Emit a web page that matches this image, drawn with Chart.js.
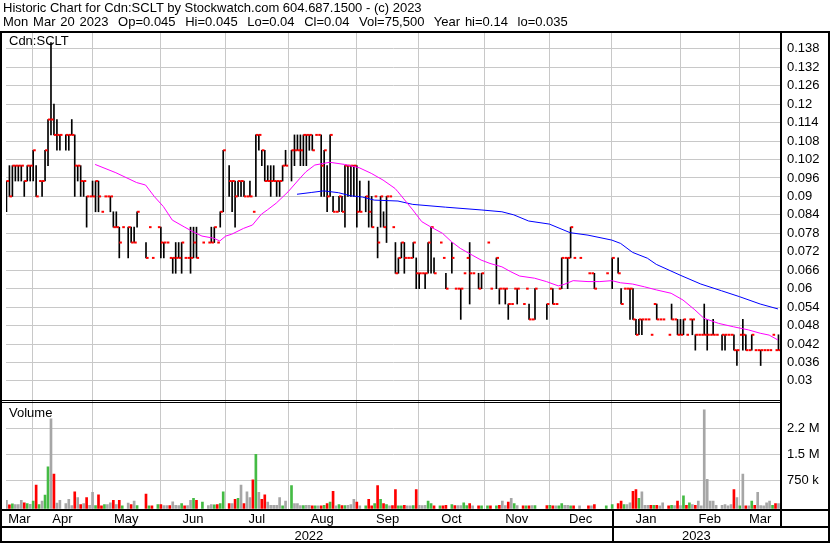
<!DOCTYPE html>
<html><head><meta charset="utf-8">
<script src="https://cdn.jsdelivr.net/npm/chart.js@4/dist/chart.umd.min.js"></script>
<style>
html,body{margin:0;padding:0;background:#fff;}
#wrap{position:relative;width:830px;height:543px;overflow:hidden;background:#fff;}
#c{position:absolute;left:0;top:0;}
.t{position:absolute;font-family:"Liberation Sans",Arial,sans-serif;font-size:13px;color:#000;white-space:pre;line-height:14px;}
</style></head><body>
<div id="wrap">
<canvas id="c" width="830" height="543"></canvas>
<div class="t" style="left:3px;top:1px">Historic Chart for Cdn:SCLT by Stockwatch.com 604.687.1500 - (c) 2023</div>
<div class="t" style="left:3px;top:15px;word-spacing:1.2px">Mon Mar 20 2023  Op=0.045  Hi=0.045  Lo=0.04  Cl=0.04  Vol=75,500  Year hi=0.14  lo=0.035</div>
<div class="t" style="left:9px;top:34px">Cdn:SCLT</div>
<div class="t" style="left:9px;top:406px">Volume</div>
</div>
<script>
// ---- data (one slot per weekday, Mar 21 2022 .. Mar 20 2023) ----
const monthStarts = [0, 9, 29, 52, 74, 95, 118, 139, 161, 183, 204, 227, 247, 261];
const monthNames = ['Mar','Apr','May','Jun','Jul','Aug','Sep','Oct','Nov','Dec','Jan','Feb','Mar'];
const yearStarts = [0, 204, 261];
const yearNames = ['2022','2023'];
const priceTicks = [0.03,0.036,0.042,0.048,0.054,0.06,0.066,0.072,0.078,0.084,0.09,0.096,0.102,0.108,0.114,0.12,0.126,0.132,0.138];
const priceTickLabels = ['0.03','0.036','0.042','0.048','0.054','0.06','0.066','0.072','0.078','0.084','0.09','0.096','0.102','0.108','0.114','0.12','0.126','0.132','0.138'];
const volTicks = [750000, 1500000, 2250000];
const volTickLabels = ['750 k','1.5 M','2.2 M'];

const highs = [
.095,.100,.100,.100,.100,.100,.095,.100,.100,.105,
.100,.095,.095,.105,.115,.140,.120,.115,.110,null,
.110,.110,.115,.110,.100,.100,.095,.090,.090,.095,
.095,.095,.085,.090,.090,.090,.085,.085,.080,.080,
null,.080,.080,.080,.085,null,null,.075,.080,.070,
null,.080,.080,.075,.075,.070,.070,.075,.075,.075,
.070,.070,.080,.080,.080,null,.075,null,.075,.080,
.080,.075,.085,.105,null,.100,.095,.095,.095,.095,
.095,.090,.095,.085,.110,.110,.105,.105,.100,.100,
.100,.095,.095,.100,.105,null,.105,.110,.110,.110,
.110,.110,.110,.110,.110,.110,.110,.105,.100,.110,
.090,.085,.090,.090,.100,.100,.100,.100,.100,.095,
null,.090,.095,.090,.090,.080,.090,.085,.090,.090,
.080,.075,.070,.075,.075,.070,.070,.075,.070,.065,
.065,.065,.075,.080,.070,null,.075,.070,.065,null,
.075,.060,.060,.060,.065,.070,.075,.065,null,.065,
.065,null,.075,.060,null,.070,.060,.060,.060,.055,
.055,.060,.060,null,.055,.060,.055,.050,.060,null,
null,null,.055,.060,.060,.055,.060,.070,.070,.070,
.080,.070,null,.070,null,null,.065,.065,.065,null,
null,null,.065,null,.070,null,.070,.060,.060,.060,
.060,.060,.050,.050,.050,.050,.050,.045,.055,.055,
.050,.050,null,.045,.055,.050,.050,.050,.050,.045,
.050,.050,.045,.045,.045,.055,.050,.045,.050,.045,
null,.045,.045,.045,.045,.045,.040,.045,.050,.045,
.040,.045,.040,.040,.040,.040,.040,.040,.045,.040,
.045];
const lows = [
.085,.090,.090,.095,.095,.095,.090,.095,.095,.095,
.090,.095,.090,.095,.100,.110,.110,.105,.105,null,
.105,.105,.110,.090,.095,.090,.090,.080,.090,.090,
.085,.085,.085,.090,.090,.085,.080,.080,.070,.080,
null,.070,.075,.075,.080,null,null,.070,.080,.070,
null,.080,.070,.070,.075,.070,.065,.065,.070,.065,
.070,.070,.065,.070,.070,null,.075,null,.075,.075,
.075,.075,.080,.085,null,.090,.085,.080,.090,.090,
.090,.090,.090,.085,.090,.105,.100,.095,.095,.090,
.095,.090,.090,.095,.100,null,.095,.100,.105,.100,
.100,.100,.105,.105,.110,.110,.090,.090,.085,.090,
.085,.085,.085,.085,.080,.090,.090,.090,.080,.085,
null,.085,.080,.080,.090,.070,.080,.080,.075,.090,
.080,.065,.065,.070,.065,.070,.070,.070,.060,.060,
.065,.060,.065,.065,.065,null,.075,.070,.060,null,
.065,.060,.060,.050,.065,.070,.055,.065,null,.060,
.060,null,.075,.060,null,.060,.055,.060,.055,.050,
.055,.060,.055,null,.055,.060,.050,.050,.050,null,
null,null,.050,.060,.055,.055,.060,.060,.070,.060,
.070,.070,null,.070,null,null,.065,.065,.060,null,
null,null,.065,null,.060,null,.065,.055,.060,.060,
.050,.050,.045,.045,.045,.050,.050,.045,.055,.050,
.050,.050,null,.045,.050,.050,.045,.045,.045,.045,
.050,.045,.040,.045,.045,.045,.040,.045,.045,.045,
null,.040,.040,.045,.045,.040,.035,.045,.040,.040,
.040,.040,.040,.040,.035,.040,.040,.040,.045,.040,
.040];
const closes = [
.095,.090,.100,.100,.100,.100,.095,.100,.100,.105,
.090,.095,.095,.105,.115,.115,.110,.110,.110,null,
.110,.110,.110,.100,.100,.095,.095,.090,.090,.090,
.095,.090,.085,.090,.090,.090,.080,.080,.075,.080,
null,.080,.075,.075,.085,null,null,.070,.080,.070,
null,.080,.075,.075,.075,.070,.070,.070,.070,.075,
.070,.070,.070,.075,.070,null,.075,null,.075,.075,
.080,.075,.085,.105,null,.095,.095,.090,.095,.095,
.090,.090,.090,.085,.110,.110,.105,.095,.095,.095,
.095,.095,.095,.100,.100,null,.105,.105,.105,.105,
.110,.110,.110,.105,.110,.110,.100,.105,.090,.110,
.085,.085,.090,.085,.100,.100,.100,.100,.085,.085,
null,.090,.085,.080,.090,.075,.090,.080,.090,.090,
.080,.065,.070,.075,.070,.070,.070,.075,.065,.065,
.065,.065,.075,.080,.065,null,.075,.070,.060,null,
.070,.060,.060,.060,.065,.070,.065,.065,null,.060,
.065,null,.075,.060,null,.070,.060,.060,.060,.055,
.055,.060,.060,null,.055,.060,.050,.050,.060,null,
null,null,.055,.060,.055,.055,.060,.070,.070,.070,
.080,.070,null,.070,null,null,.065,.065,.060,null,
null,null,.065,null,.070,null,.065,.055,.060,.060,
.060,.050,.045,.050,.050,.050,.050,.045,.055,.050,
.050,.050,null,.045,.050,.050,.045,.045,.050,.045,
.050,.050,.045,.045,.045,.045,.045,.045,.045,.045,
null,.045,.045,.045,.045,.040,.040,.045,.045,.040,
.040,.045,.040,.040,.040,.040,.040,.040,.045,.040,
.040];
const volumes = [
175000,40000,70000,50000,50000,170000,100000,80000,60000,150000,
614000,50000,150000,326000,1140000,2520000,930000,90000,170000,null,
80000,200000,20000,420000,250000,50000,80000,250000,30000,400000,
20000,330000,15000,50000,50000,100000,170000,50000,170000,15000,
null,90000,50000,150000,20000,null,null,350000,15000,15000,
null,50000,50000,20000,20000,20000,130000,30000,20000,80000,
15000,20000,175000,230000,175000,null,120000,null,20000,50000,
40000,50000,80000,420000,null,80000,80000,200000,230000,614000,
80000,420000,250000,760000,1500000,400000,200000,330000,120000,30000,
30000,30000,250000,15000,150000,null,600000,80000,80000,20000,
20000,30000,30000,15000,15000,15000,15000,30000,80000,120000,
430000,15000,50000,20000,20000,30000,50000,200000,120000,15000,
null,15000,200000,15000,80000,600000,200000,80000,50000,15000,
20000,480000,15000,15000,30000,15000,15000,20000,480000,30000,
20000,30000,150000,80000,15000,null,15000,15000,30000,null,
50000,20000,20000,20000,100000,20000,80000,15000,null,15000,
15000,null,15000,15000,null,15000,30000,150000,20000,120000,
230000,80000,20000,null,15000,15000,15000,20000,20000,null,
null,null,20000,30000,15000,15000,15000,80000,30000,30000,
15000,15000,null,15000,null,null,15000,15000,50000,null,
null,null,15000,null,50000,null,80000,150000,50000,50000,
100000,430000,480000,230000,420000,30000,30000,30000,30000,30000,
15000,100000,null,15000,30000,20000,150000,20000,300000,30000,
100000,50000,30000,150000,15000,2780000,780000,150000,150000,30000,
null,30000,50000,15000,50000,480000,250000,15000,930000,15000,
15000,150000,30000,400000,20000,15000,100000,150000,30000,80000,
75500];

// moving averages (slot, value)
const maShortDays = [30,37,44,47,50,53,56,60,63,66,70,72,74,76,80,83,86,88,91,95,99,101,104,109,114,119,123,127,131,132,137,140,143,147,150,153,157,160,163,167,170,173,178,182,186,188,191,196,200,204,207,211,215,219,224,228,232,235,240,245,250,254,257,260];
const maShortVals = [0.1004,0.0977,0.0945,0.0937,0.0899,0.0867,0.0823,0.0801,0.0785,0.0771,0.0764,0.0755,0.0771,0.0777,0.0796,0.0807,0.0842,0.0856,0.0878,0.0915,0.0959,0.0980,0.1002,0.1011,0.1004,0.0993,0.0975,0.0953,0.0926,0.0915,0.0856,0.0818,0.0801,0.0780,0.0753,0.0731,0.0709,0.0693,0.0682,0.0671,0.0655,0.0641,0.0634,0.0623,0.0609,0.0614,0.0626,0.0623,0.0623,0.0626,0.0619,0.0615,0.0606,0.0596,0.0585,0.0563,0.0531,0.0504,0.0487,0.0476,0.0466,0.0455,0.0449,0.0433];
const maLongDays = [98,103,107,112,116,120,124,132,137,148,160,167,171,176,183,190,196,204,207,211,216,219,227,234,241,247,254,260];
const maLongVals = [0.0907,0.0913,0.0918,0.0912,0.0902,0.0898,0.0888,0.0885,0.0874,0.0865,0.0856,0.0850,0.0840,0.0820,0.0810,0.0782,0.0774,0.0758,0.0747,0.0718,0.0699,0.0679,0.0644,0.0615,0.0593,0.0574,0.0550,0.0534];

// ---- build library datasets ----
const N = 261, OFF = 0.15, VOLMIN = -69200;
const hl = [], cl = [], vol = [], volCol = [];
let prev = null;
for (let i = 0; i < N; i++) {
  if (highs[i] == null) continue;
  if (highs[i] > lows[i]) hl.push({x: i + OFF, y: [lows[i], highs[i]]});
  cl.push({x: i + OFF, y: closes[i]});
  if (volumes[i] != null) {
    vol.push({x: i + OFF, y: [VOLMIN, volumes[i]]});
    volCol.push(prev == null || closes[i] === prev ? '#a6a6a6' : (closes[i] > prev ? '#44bb44' : '#ff0000'));
  }
  prev = closes[i];
}
const maS = maShortDays.map((d, k) => ({x: d, y: maShortVals[k]}));
const maL = maLongDays.map((d, k) => ({x: d, y: maLongVals[k]}));

const frame = {
  id: 'frame',
  beforeDraw(c) { const g = c.ctx; g.save(); g.fillStyle = '#fff'; g.fillRect(0, 0, c.width, c.height); g.restore(); },
  afterDraw(c) {
    const g = c.ctx, a = c.chartArea, sx = c.scales.x, sy = c.scales.y, sv = c.scales.yv, sm = c.scales.xm;
    g.save(); g.fillStyle = '#000';
    const R = Math.round(a.right);
    g.fillRect(0, 31, 830, 2);
    g.fillRect(0, 31, 2, 512);
    g.fillRect(828, 31, 2, 512);
    g.fillRect(R - 1, 31, 2, Math.round(sm.bottom) - 31);
    const pb = Math.round(sy.bottom);
    g.fillRect(0, pb, R, 1);
    g.fillRect(0, pb + 2, R, 1);
    const vb = Math.round(sv.bottom);
    g.fillRect(0, vb, 830, 2);
    g.fillRect(0, Math.round(sm.bottom) - 1, 830, 2);
    g.fillRect(0, 541, 830, 2);
    const jx = Math.round(sx.getPixelForValue(yearStarts[1]));
    g.fillRect(jx, vb, 2, 543 - vb);
    g.restore();
  }
};

Chart.defaults.font.family = '"Liberation Sans", Arial, sans-serif';
Chart.defaults.font.size = 13;
Chart.defaults.color = '#000';

const GRID = '#c8c8c8';
new Chart(document.getElementById('c'), {
  type: 'bar',
  data: { datasets: [
    {type: 'line', data: maS, borderColor: '#ff00ff', borderWidth: 1, pointRadius: 0, tension: 0, order: 0, yAxisID: 'y'},
    {type: 'line', data: maL, borderColor: '#0000ff', borderWidth: 1, pointRadius: 0, tension: 0, order: 0, yAxisID: 'y'},
    {type: 'line', data: cl, showLine: false, pointStyle: 'dash', pointRadius: 2.6, pointBorderWidth: 2,
     pointBorderColor: '#ff0000', pointBackgroundColor: '#ff0000', order: 1, yAxisID: 'y'},
    {type: 'bar', data: hl, backgroundColor: '#000', barThickness: 1, grouped: false, borderWidth: 0, order: 2, yAxisID: 'y'},
    {type: 'bar', data: vol, backgroundColor: volCol, barThickness: 2, grouped: false, borderWidth: 0, order: 2, yAxisID: 'yv'}
  ]},
  options: {
    responsive: false, animation: false, devicePixelRatio: 1,
    layout: { padding: { left: 2.5, top: 33, right: 0, bottom: 0 } },
    plugins: { legend: {display: false}, tooltip: {enabled: false}, title: {display: false} },
    scales: {
      x: { type: 'linear', min: 0, max: N, offset: false, position: 'bottom', weight: 0,
           grid: { color: GRID, drawTicks: false, offset: false }, border: {display: false},
           ticks: { display: false },
           afterBuildTicks: s => { s.ticks = monthStarts.slice(1, -1).map(v => ({value: v})); },
           afterFit: s => { s.height = 0; } },
      xm: { type: 'linear', min: 0, max: N, offset: false, position: 'bottom', weight: 1,
            grid: { display: false, drawTicks: false }, border: {display: false},
            ticks: { autoSkip: false, maxRotation: 0, padding: 3, font: {size: 13},
                     callback: (v, i) => monthNames[i] },
            afterBuildTicks: s => { s.ticks = monthNames.map((n, i) => ({value: (monthStarts[i] + monthStarts[i + 1]) / 2})); },
            afterFit: s => { s.height = 18.3; } },
      xy: { type: 'linear', min: 0, max: N, offset: false, position: 'bottom', weight: 2,
            grid: { display: false, drawTicks: false }, border: {display: false},
            ticks: { autoSkip: false, maxRotation: 0, padding: 2, font: {size: 13},
                     callback: (v, i) => yearNames[i] },
            afterBuildTicks: s => { s.ticks = yearNames.map((n, i) => ({value: (yearStarts[i] + yearStarts[i + 1]) / 2})); },
            afterFit: s => { s.height = 16; } },
      y: { type: 'linear', position: 'right', stack: 'panels', stackWeight: 367, min: 0.02379, max: 0.14314,
           grid: { color: GRID, drawTicks: false }, border: {display: false},
           ticks: { autoSkip: false, padding: 6, font: {size: 13}, callback: (v, i) => priceTickLabels[i] },
           afterBuildTicks: s => { s.ticks = priceTicks.map(v => ({value: v})); },
           afterFit: s => { s.width = 49; } },
      yv: { type: 'linear', position: 'right', stack: 'panels', stackWeight: 108.7, min: VOLMIN, max: 3066000,
            grid: { color: GRID, drawTicks: false }, border: {display: false},
            ticks: { autoSkip: false, padding: 6, font: {size: 13}, callback: (v, i) => volTickLabels[i] },
            afterBuildTicks: s => { s.ticks = volTicks.map(v => ({value: v})); },
            afterFit: s => { s.width = 49; } }
    }
  },
  plugins: [frame]
});
</script>
</body></html>
